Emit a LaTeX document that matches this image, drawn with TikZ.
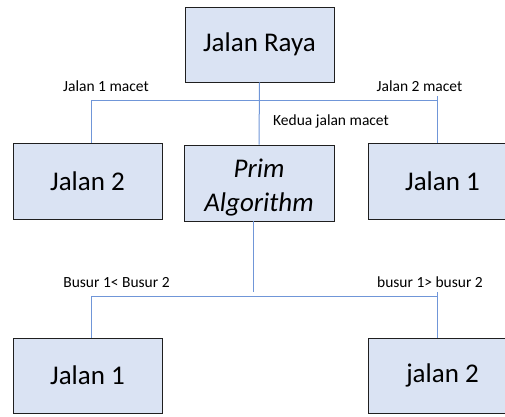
\documentclass[tikz,border=0pt]{standalone}
\usepackage{fontspec}
\setmainfont{Carlito}
\definecolor{boxfill}{HTML}{DAE3F3}
\definecolor{boxline}{HTML}{1F1F1F}
\definecolor{linkblue}{HTML}{7096D8}
\begin{document}
\begin{tikzpicture}[x=1pt,y=-1pt,
  box/.style={draw=boxline,fill=boxfill,line width=0.9pt,minimum width=149pt,
    minimum height=75pt,inner sep=0pt,align=center,
    font=\fontsize{27}{34}\selectfont},
  conn/.style={draw=linkblue,line width=1pt},
  lbl/.style={anchor=base,inner sep=0pt,font=\fontsize{15.5}{18}\selectfont}]
\useasboundingbox (0,0) rectangle (505,416);
\clip (0,0) rectangle (505,416);

% boxes
\node[box] (raya) at (259.5,44.5) {Jalan Raya};
\node[box,minimum height=76pt] (j2) at (87.5,181) {Jalan 2};
\node[box,minimum height=76pt,minimum width=150pt] (prim) at (259,183)
  {\rule{0pt}{28pt}\itshape Prim\\\itshape Algorithm};
\node[box,minimum height=76pt] (j1) at (442.5,181) {Jalan 1};
\node[box] (b1) at (87.5,375.5) {Jalan 1};
\node[box] (b2) at (442.5,375.5) {jalan 2};

% upper branching
\coordinate (tl) at (91,100);
\coordinate (tr) at (437,100);
\coordinate (trt) at (437,96);
\draw[conn] (raya.south) -- (prim.north);
\draw[conn] (tl) -- (tr);
\draw[conn] (tl) -- (tl |- j2.north);
\draw[conn] (trt) -- (trt |- j1.north);

% lower branching
\coordinate (pm) at (253,292);
\coordinate (bl) at (91,296);
\coordinate (br) at (437,296);
\coordinate (brt) at (437,292);
\draw[conn] (pm |- prim.south) -- (pm);
\draw[conn] (bl) -- (br);
\draw[conn] (bl) -- (bl |- b1.north);
\draw[conn] (brt) -- (brt |- b2.north);

% labels
\node[lbl] (l1) at (106,91.5) {Jalan 1 macet};
\node[lbl] (l2) at (419.5,91.5) {Jalan 2 macet};
\node[lbl] (l3) at (331,125) {Kedua jalan macet};
\node[lbl] (l4) at (116.5,287.5) {Busur 1< Busur 2};
\node[lbl] (l5) at (430,287.5) {busur 1> busur 2};
\end{tikzpicture}
\end{document}
